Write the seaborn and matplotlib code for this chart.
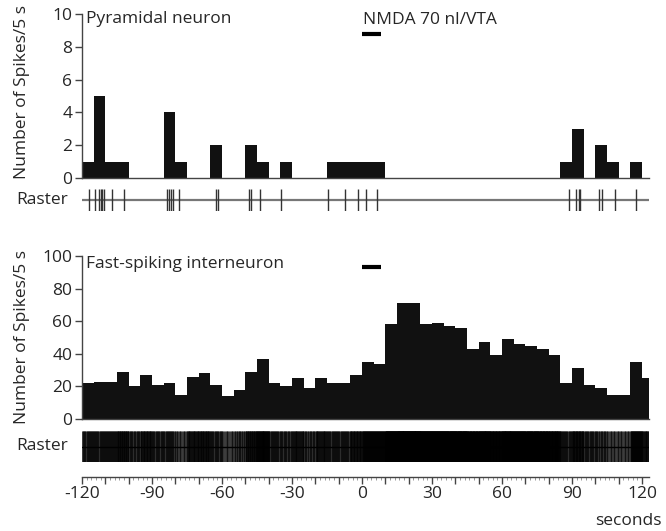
import numpy as np
import pandas as pd
import matplotlib
matplotlib.use("Agg")
import matplotlib.pyplot as plt
import seaborn as sns

sns.set_style("white")
plt.rcParams["font.family"] = ["Open Sans", "DejaVu Sans"]

# ---------------- data ----------------
# Pyramidal neuron spike times (s), read from the raster / histogram
pyr_spikes = [-117.0, -114.5, -112.8, -112.0, -111.3, -110.6, -107.0, -102.0,
              -83.5, -82.6, -81.7, -80.8, -78.5,
              -62.4, -61.8,
              -48.6, -47.4, -43.8,
              -34.7,
              -14.4, -7.2, -1.6, 1.5, 6.4,
              88.5, 91.5, 92.8, 93.5, 101.5, 103.0, 108.5, 117.5]

# Fast-spiking interneuron: spikes per 5 s bin (bin left edges)
fs_bin_left = list(range(-120, 121, 5))
fs_counts = [22, 23, 23, 29, 20, 27, 21, 22, 15, 26, 28, 21, 14, 18, 29, 37,
             22, 20, 25, 19, 25, 22, 22, 27, 35, 34, 58, 71, 71, 58, 59, 57,
             56, 43, 47, 39, 49, 46, 45, 43, 39, 22, 31, 21, 19, 15, 15, 35, 25]
x_end = 123           # right end of the time axis (last partial bin)
bin_width = 5

nmda_start, nmda_end = 0, 8
xtick_major = list(range(-120, 121, 10))
xtick_labels = [str(v) if v % 30 == 0 else "" for v in xtick_major]

# ---------------- layout ----------------
W, H = 666, 531
fig = plt.figure(figsize=(W / 100, H / 100), dpi=100)

def box(left, right, top, bottom):
    return [left / W, 1 - bottom / H, (right - left) / W, (bottom - top) / H]

L, R = 82, 649
ax1 = fig.add_axes(box(L, R, 14, 178))
ax2 = fig.add_axes(box(L, R, 189, 211))
ax3 = fig.add_axes(box(L, R, 256, 419))
ax4 = fig.add_axes(box(L, R, 431, 462))

edges = list(range(-120, 121, bin_width)) + [x_end]
bar_col = "#111111"
axis_col = "#444444"
fs = 12.5

# ---------- top histogram ----------
sns.histplot(x=pyr_spikes, bins=edges, ax=ax1, color=bar_col, alpha=1,
             edgecolor=bar_col, linewidth=0, element="bars")
ax1.set_xlim(-120, x_end)
ax1.set_ylim(0, 10)
ax1.set_yticks([0, 2, 4, 6, 8, 10])

# ---------- bottom histogram ----------
centers = [b + min(bin_width, x_end - b) / 2 for b in fs_bin_left]
df_fs = pd.DataFrame({"t": centers, "n": fs_counts})
sns.histplot(data=df_fs, x="t", weights="n", bins=edges, ax=ax3,
             color=bar_col, alpha=1, edgecolor=bar_col, linewidth=0,
             element="bars")
ax3.set_xlim(-120, x_end)
ax3.set_ylim(0, 100)
ax3.set_yticks([0, 20, 40, 60, 80, 100])

for ax in (ax1, ax3):
    sns.despine(ax=ax)
    ax.set_xticks([])
    ax.set_xlabel("")
    ax.set_ylabel("")
    for s in ("left", "bottom"):
        ax.spines[s].set_color(axis_col)
        ax.spines[s].set_linewidth(1.0)
    ax.tick_params(axis="y", direction="out", length=5, width=1,
                   color=axis_col, labelsize=fs, pad=2, left=True)
    ax.spines["bottom"].set_zorder(5)

# ---------- top raster ----------
sns.rugplot(x=pyr_spikes, height=1, ax=ax2, color="#333333", lw=0.9)
ax2.axhline(0.5, color="#777777", lw=1.6, xmin=-0.004, zorder=0)
ax2.set_xlim(-120, x_end)
ax2.set_ylim(0, 1)
ax2.axis("off")

# ---------- bottom raster ----------
fs_spikes = []
for b, n in zip(fs_bin_left, fs_counts):
    w = min(bin_width, x_end - b)
    k = int(round(n * w / bin_width))
    fs_spikes.extend(b + (np.arange(k) + 0.5) * w / k)
sns.rugplot(x=fs_spikes, height=1, ax=ax4, color="black", lw=0.3, alpha=0.68)
ax4.axhline(0.5, color="black", lw=1.0, zorder=3)
ax4.set_xlim(-120, x_end)
ax4.set_ylim(0, 1)
ax4.set_yticks([])
for s in ("top", "right", "left"):
    ax4.spines[s].set_visible(False)
ax4.spines["bottom"].set_position(("outward", 10.5))
ax4.spines["bottom"].set_color(axis_col)
ax4.spines["bottom"].set_linewidth(1.0)
ax4.set_xticks(xtick_major)
ax4.set_xticklabels(xtick_labels)
ax4.set_xticks(list(range(-120, 121, 2)), minor=True)
ax4.tick_params(axis="x", which="major", direction="out", length=5, width=1,
                color=axis_col, labelsize=fs, pad=1.5, bottom=True)
ax4.tick_params(axis="x", which="minor", direction="out", length=1.8,
                width=0.6, color="#888888", bottom=True)

# ---------- texts ----------
ax2.text(-0.025, 0.5, "Raster", transform=ax2.transAxes, ha="right",
         va="center", fontsize=fs)
ax4.text(-0.025, 0.5, "Raster", transform=ax4.transAxes, ha="right",
         va="center", fontsize=fs)
ax1.text(-118.3, 9.7, "Pyramidal neuron", ha="left", va="center", fontsize=fs)
ax1.text(0.4, 9.63, "NMDA 70 nl/VTA", ha="left", va="center", fontsize=fs)
ax1.plot([nmda_start, nmda_end], [8.8, 8.8], color="black", lw=3,
         solid_capstyle="butt")
ax3.text(-118.3, 95, "Fast-spiking interneuron", ha="left", va="center",
         fontsize=fs)
ax3.plot([nmda_start, nmda_end], [93, 93], color="black", lw=3,
         solid_capstyle="butt")

fig.text(22 / W, 1 - 92 / H, "Number of Spikes/5 s", rotation=90,
         ha="center", va="center", fontsize=fs)
fig.text(22 / W, 1 - 337 / H, "Number of Spikes/5 s", rotation=90,
         ha="center", va="center", fontsize=fs)
fig.text(662 / W, 1 - 521 / H, "seconds", ha="right", va="center",
         fontsize=fs)

fig.savefig("out.png", dpi=100)
